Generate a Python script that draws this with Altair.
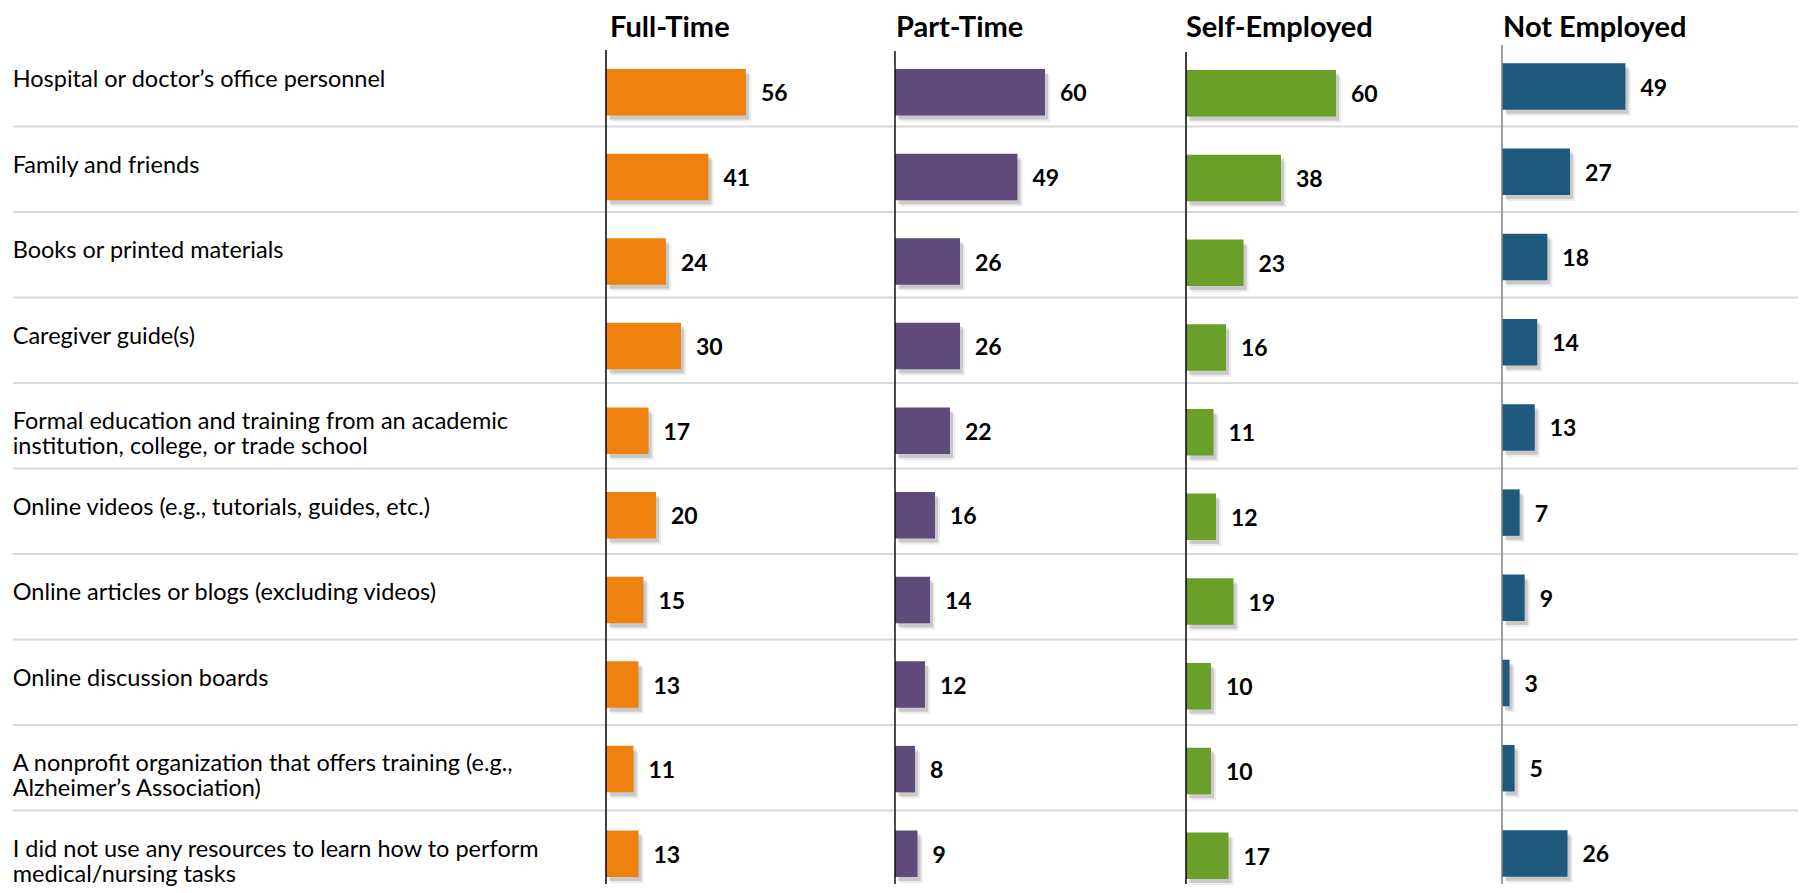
import altair as alt
import pandas as pd

# ---------------- data ----------------
categories = [
    "Hospital or doctor’s office personnel",
    "Family and friends",
    "Books or printed materials",
    "Caregiver guide(s)",
    "Formal education and training from an academic\ninstitution, college, or trade school",
    "Online videos (e.g., tutorials, guides, etc.)",
    "Online articles or blogs (excluding videos)",
    "Online discussion boards",
    "A nonprofit organization that offers training (e.g.,\nAlzheimer’s Association)",
    "I did not use any resources to learn how to perform\nmedical/nursing tasks",
]
groups = ["Full-Time", "Part-Time", "Self-Employed", "Not Employed"]
full_time = [56, 41, 24, 30, 17, 20, 15, 13, 11, 13]
part_time = [60, 49, 26, 26, 22, 16, 14, 12, 8, 9]
self_employed = [60, 38, 23, 16, 11, 12, 19, 10, 10, 17]
not_employed = [49, 27, 18, 14, 13, 7, 9, 3, 5, 26]
series = [full_time, part_time, self_employed, not_employed]
colors = ["#EF820E", "#604A7B", "#6A9F2A", "#1F5A7C"]
separators = list(range(1, 10))

# ---------------- styling / layout ----------------
FONT = "Lato"
PLOT_H = 843
ROW_SPAN = 855
BAR_H = 46.5
LABEL_W = 597.5
panel_w = [288.5, 290.5, 315.5, 296]
px_per_unit = [2.5, 2.5, 2.5, 2.52]
band_ranges = [[9, 855], [9, 855], [10, 857], [3, 855]]
axis_tops = [9, 10, 11, 4]
axis_colors = ["#000000", "#111111", "#000000", "#7F7F7F"]
title_dx = [5, 2, 1, 2]

sep_df = pd.DataFrame({"k": separators})


def sep_layer(x0, w):
    return alt.Chart(sep_df).mark_rule(color="#D9D9D9", strokeWidth=2).encode(
        y=alt.Y("k:Q", scale=alt.Scale(domain=[0, 10], range=[0, ROW_SPAN]), axis=None),
        x=alt.value(x0),
        x2=alt.value(w),
    )


# label panel
lab_df = pd.DataFrame({"cat": categories})
labels = alt.Chart(lab_df).mark_text(
    align="left", baseline="middle", font=FONT, fontSize=23.5, lineHeight=25,
    lineBreak="\n", color="#000000", dy=-3.5,
).encode(
    y=alt.Y("cat:N", scale=alt.Scale(domain=categories, range=[0, ROW_SPAN],
                                     paddingInner=0, paddingOuter=0), axis=None),
    x=alt.value(4.7),
    text="cat:N",
)
label_panel = alt.layer(sep_layer(4.7, LABEL_W), labels).resolve_scale(
    y="independent").properties(width=LABEL_W, height=PLOT_H)


def panel(i):
    df = pd.DataFrame({"cat": categories, "v": series[i]})
    w = panel_w[i]
    xs = alt.Scale(domain=[0, w / px_per_unit[i]], nice=False, zero=True)
    ys = alt.Scale(domain=categories, range=band_ranges[i], paddingInner=0, paddingOuter=0)
    base = alt.Chart(df).encode(
        y=alt.Y("cat:N", scale=ys, axis=None),
        x=alt.X("v:Q", scale=xs, axis=None),
    )
    shadow1 = base.mark_bar(color="#000000", opacity=0.08, height=BAR_H, xOffset=5, yOffset=6)
    shadow2 = base.mark_bar(color="#000000", opacity=0.14, height=BAR_H, xOffset=3, yOffset=4)
    bars = base.mark_bar(color=colors[i], height=BAR_H)
    text = base.mark_text(
        align="left", baseline="middle", dx=15, dy=2, font=FONT, fontSize=23,
        fontWeight="bold", color="#000000",
    ).encode(text="v:Q")
    axis_line = alt.Chart(pd.DataFrame({"a": [0]})).mark_rule(
        color=axis_colors[i], strokeWidth=1.5
    ).encode(x=alt.value(0), y=alt.value(axis_tops[i]), y2=alt.value(PLOT_H))
    return alt.layer(sep_layer(0, w), shadow1, shadow2, bars, text, axis_line).resolve_scale(
        y="independent"
    ).properties(
        width=w,
        height=PLOT_H,
        title=alt.TitleParams(
            text=groups[i], anchor="start", font=FONT, fontSize=29, fontWeight="bold",
            color="#000000", dx=title_dx[i], offset=-2,
        ),
    )


chart = alt.hconcat(
    label_panel, *[panel(i) for i in range(4)], spacing=0, bounds="flush"
).resolve_scale(x="independent", y="independent").properties(
    padding={"left": 0, "top": 6, "right": 0, "bottom": 0},
    background="#FFFFFF",
).configure_view(stroke=None)

chart.save("out.html", embed_options={"renderer": "svg", "actions": False})
